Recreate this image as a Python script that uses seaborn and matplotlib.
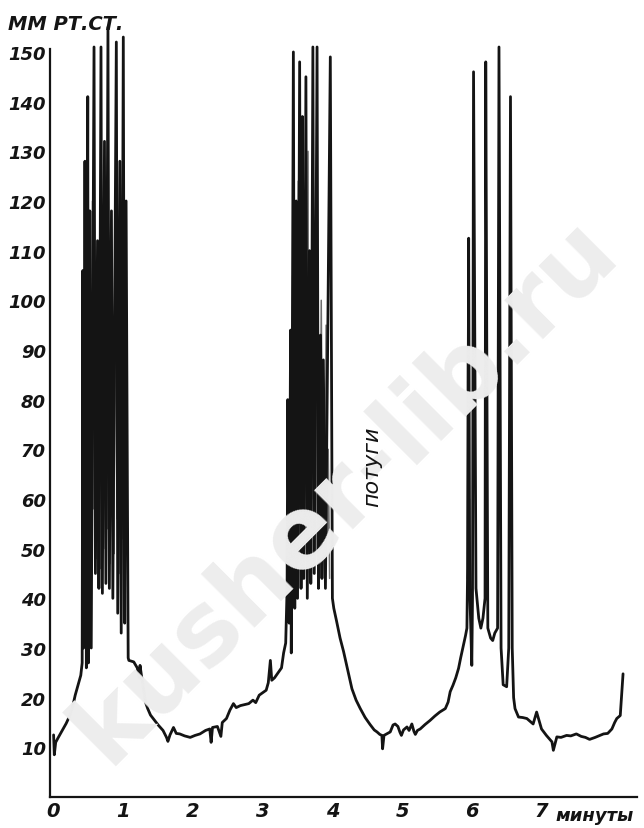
import matplotlib
matplotlib.use("Agg")
import matplotlib.pyplot as plt
from matplotlib import font_manager
import pandas as pd
import seaborn as sns

# ---- recorded trace: time in minutes, pressure in mm Hg ----
rest1_t = [0.00, 0.01, 0.03, 0.06, 0.10, 0.14, 0.18, 0.22, 0.27, 0.31, 0.35, 0.39, 0.41]
rest1_p = [12.5, 8.5, 11.0, 11.8, 12.8, 13.8, 14.8, 16.0, 18.0, 20.5, 22.5, 24.5, 27.0]

burst1_t = [0.42, 0.43, 0.45, 0.47, 0.49, 0.50, 0.52, 0.54, 0.58, 0.60, 0.63, 0.65,
            0.68, 0.70, 0.73, 0.75, 0.78, 0.80, 0.83, 0.85, 0.90, 0.92, 0.95, 0.97,
            1.00, 1.02, 1.04, 1.07]
burst1_p = [106, 30, 128, 26, 141, 27, 118, 30, 151, 45, 112, 42,
            151, 41, 132, 43, 155, 42, 118, 40, 152, 37, 128, 33,
            153, 35, 120, 28]

rest2_t = [1.08, 1.15, 1.20, 1.23, 1.24, 1.26, 1.29, 1.32, 1.35, 1.39, 1.44, 1.50,
           1.57, 1.62, 1.64, 1.67, 1.72, 1.76, 1.81, 1.88, 1.96, 2.03, 2.10, 2.18,
           2.24, 2.26, 2.28, 2.35, 2.40, 2.42, 2.48, 2.53, 2.58, 2.62, 2.68, 2.74,
           2.80, 2.86, 2.90, 2.95, 3.00, 3.05, 3.08, 3.11, 3.13, 3.17, 3.22, 3.27,
           3.30, 3.33]
rest2_p = [27.5, 27.2, 26.0, 24.0, 26.5, 24.5, 21.8, 19.0, 17.8, 16.5, 15.6, 14.5,
           13.4, 12.0, 11.2, 12.5, 14.0, 12.8, 12.7, 12.3, 12.0, 12.4, 12.7, 13.4,
           13.7, 11.0, 14.0, 14.2, 12.2, 15.0, 15.8, 17.5, 18.8, 18.0, 18.4, 18.6,
           18.8, 19.5, 19.0, 20.5, 21.0, 21.5, 23.0, 27.5, 23.5, 24.0, 25.0, 26.0,
           29.0, 31.0]

burst2_t = [3.35, 3.36, 3.38, 3.40, 3.41, 3.44, 3.46, 3.48, 3.50, 3.53, 3.55, 3.57,
            3.59, 3.62, 3.64, 3.67, 3.69, 3.72, 3.74, 3.78, 3.80, 3.83, 3.85, 3.87,
            3.90, 3.97, 4.00]
burst2_p = [42, 80, 35, 94, 29, 150, 38, 120, 40, 148, 42, 137,
            44, 145, 40, 110, 43, 151, 45, 151, 42, 93, 44, 88,
            42, 149, 40]

rest3_t = [4.02, 4.06, 4.11, 4.16, 4.22, 4.28, 4.34, 4.40, 4.47, 4.54, 4.60, 4.64,
           4.68, 4.71, 4.72, 4.74, 4.79, 4.83, 4.87, 4.90, 4.94, 4.97, 4.99, 5.02,
           5.07, 5.10, 5.14, 5.17, 5.19, 5.22, 5.26, 5.33, 5.40, 5.47, 5.54, 5.62,
           5.66, 5.69, 5.73, 5.77, 5.81, 5.84, 5.88, 5.91, 5.93]
rest3_p = [38.0, 35.4, 32.0, 29.3, 25.5, 21.8, 19.5, 17.8, 16.0, 14.6, 13.5, 13.1,
           12.6, 12.4, 9.7, 12.4, 12.8, 13.1, 14.5, 14.7, 14.2, 13.0, 12.4, 13.5,
           14.1, 13.4, 14.7, 13.2, 12.6, 13.4, 13.7, 14.6, 15.4, 16.3, 17.1, 17.8,
           19.1, 21.2, 22.5, 24.0, 25.9, 28.0, 30.6, 32.5, 34.0]

burst3_t = [5.94, 5.955, 5.97, 6.00, 6.01, 6.025, 6.06, 6.10, 6.13, 6.16, 6.19, 6.20,
            6.23, 6.27, 6.30, 6.33, 6.37, 6.39, 6.42, 6.45, 6.50, 6.53, 6.555, 6.58,
            6.60]
burst3_p = [46, 112.5, 42, 26.5, 40, 146, 42, 36, 34, 36, 40, 148,
            34, 32, 31.5, 33, 34, 151, 30, 22.6, 22.2, 30, 141, 30,
            20]

rest4_t = [6.62, 6.67, 6.73, 6.79, 6.88, 6.93, 7.00, 7.07, 7.15, 7.17, 7.22, 7.28,
           7.36, 7.42, 7.50, 7.57, 7.63, 7.69, 7.77, 7.89, 7.95, 8.01, 8.05, 8.08,
           8.13, 8.15, 8.17]
rest4_p = [17.8, 16.1, 16.0, 15.8, 14.7, 17.1, 13.7, 12.4, 11.1, 9.4, 12.1, 12.0,
           12.4, 12.3, 12.7, 12.2, 12.0, 11.6, 12.0, 12.7, 12.8, 13.7, 15.0, 15.8,
           16.4, 20.5, 24.8]

# rapid pen flutter inside each burst
flutter1_t = [0.46, 0.47, 0.48, 0.49, 0.51, 0.53, 0.55, 0.56, 0.57, 0.59, 0.61, 0.62,
              0.64, 0.66, 0.67, 0.69, 0.71, 0.72, 0.74, 0.76, 0.77, 0.79, 0.81, 0.82,
              0.84, 0.86, 0.87, 0.88, 0.91, 0.93, 0.94, 0.96, 0.98, 0.99, 1.01, 1.03]
flutter1_p = [50, 96, 47, 110, 52, 88, 45, 120, 58, 92, 48, 104, 55, 85, 46, 98, 60, 80,
              50, 118, 54, 90, 47, 100, 62, 84, 49, 112, 56, 78, 45, 96, 52, 88, 40, 70]

flutter2_t = [3.42, 3.43, 3.45, 3.47, 3.49, 3.51, 3.52, 3.54, 3.56, 3.58, 3.60, 3.61,
              3.63, 3.65, 3.66, 3.68, 3.70, 3.71, 3.73, 3.75, 3.76, 3.77, 3.79, 3.81,
              3.82, 3.84, 3.86, 3.88, 3.89, 3.91, 3.93, 3.94, 3.96]
flutter2_p = [48, 105, 52, 96, 46, 124, 55, 90, 47, 115, 58, 98, 50, 130, 56, 86, 45,
              110, 60, 92, 49, 120, 54, 88, 47, 100, 58, 80, 46, 95, 52, 70, 44]

flutter3_t = [5.935, 5.94, 5.945, 5.95, 5.96, 5.965, 5.97]
flutter3_p = [44, 88, 48, 76, 42, 60, 40]

y_ticks = [10, 20, 30, 40, 50, 60, 70, 80, 90, 100, 110, 120, 130, 140, 150]
x_ticks = [0, 1, 2, 3, 4, 5, 6, 7, 8]
x_tick_labels = ["0", "1", "2", "3", "4", "5", "6", "7", ""]

trace = pd.DataFrame({
    "t": rest1_t + burst1_t + rest2_t + burst2_t + rest3_t + burst3_t + rest4_t,
    "p": rest1_p + burst1_p + rest2_p + burst2_p + rest3_p + burst3_p + rest4_p,
})

sns.set_style("white")
installed = {f.name for f in font_manager.fontManager.ttflist}
face = "Liberation Sans Narrow" if "Liberation Sans Narrow" in installed else "DejaVu Sans"
plt.rcParams["font.family"] = [face, "DejaVu Sans"]

W, H = 644, 829
fig = plt.figure(figsize=(W / 100, H / 100), dpi=100)

# axis frame: t=0 at x=53.6 px, 69.7 px per minute; p=0 at y=798 px, 4.967 px per mm Hg
x0, x1 = -0.05, 8.37
y0, y1 = 0.0, 160.0
left_px = 53.6 + x0 * 69.7
right_px = 53.6 + x1 * 69.7
bottom_px = 798.0
top_px = 798.0 - y1 * 4.967
ax = fig.add_axes([left_px / W, (H - bottom_px) / H,
                   (right_px - left_px) / W, (bottom_px - top_px) / H])
ax.set_xlim(x0, x1)
ax.set_ylim(y0, y1)

# faint diagonal stamp behind the record
fig.text(345 / W, 1 - 490 / H, "kusher-lib.ru", rotation=45, ha="center", va="center",
         fontsize=72, fontweight="bold", color="#ededed", family="DejaVu Sans", zorder=0)

ink = "#141414"
for ft, fp in [(flutter1_t, flutter1_p), (flutter2_t, flutter2_p), (flutter3_t, flutter3_p)]:
    sns.lineplot(x=ft, y=fp, sort=False, estimator=None, ax=ax, color="#4a4a4a",
                 lw=1.1, alpha=0.8)
sns.lineplot(data=trace, x="t", y="p", sort=False, estimator=None, ax=ax,
             color=ink, lw=2.0)

for s in ["top", "right"]:
    ax.spines[s].set_visible(False)
ax.spines["left"].set_bounds(0, 150.6)
ax.spines["left"].set_linewidth(1.6)
ax.spines["bottom"].set_linewidth(1.6)
ax.spines["left"].set_color(ink)
ax.spines["bottom"].set_color(ink)

tick_font = dict(family=[face, "DejaVu Sans"], style="italic", weight="bold")
ax.set_yticks(y_ticks)
ax.set_yticklabels([str(v) for v in y_ticks], fontsize=13, color=ink, **tick_font)
ax.set_xticks(x_ticks)
ax.set_xticklabels(x_tick_labels, fontsize=14, color=ink, **tick_font)
ax.tick_params(axis="both", direction="in", length=5, width=1.4, color=ink)
ax.tick_params(axis="y", pad=3)
ax.tick_params(axis="x", pad=3)
ax.set_xlabel("")
ax.set_ylabel("")

fig.text(8 / W, 1 - 25 / H, "ММ РТ.СТ.", ha="left", va="center", fontsize=14,
         color=ink, **tick_font)
ax.annotate("минуты", xy=(7.0, 0), xycoords="data", xytext=(10, -13),
            textcoords="offset points", ha="left", va="center", fontsize=13,
            color=ink, **tick_font)
fig.text(372 / W, 1 - 467 / H, "потуги", rotation=90, ha="center", va="center",
         fontsize=16, color=ink, family=[face, "DejaVu Sans"], style="italic")

fig.savefig("out.png", dpi=100)
